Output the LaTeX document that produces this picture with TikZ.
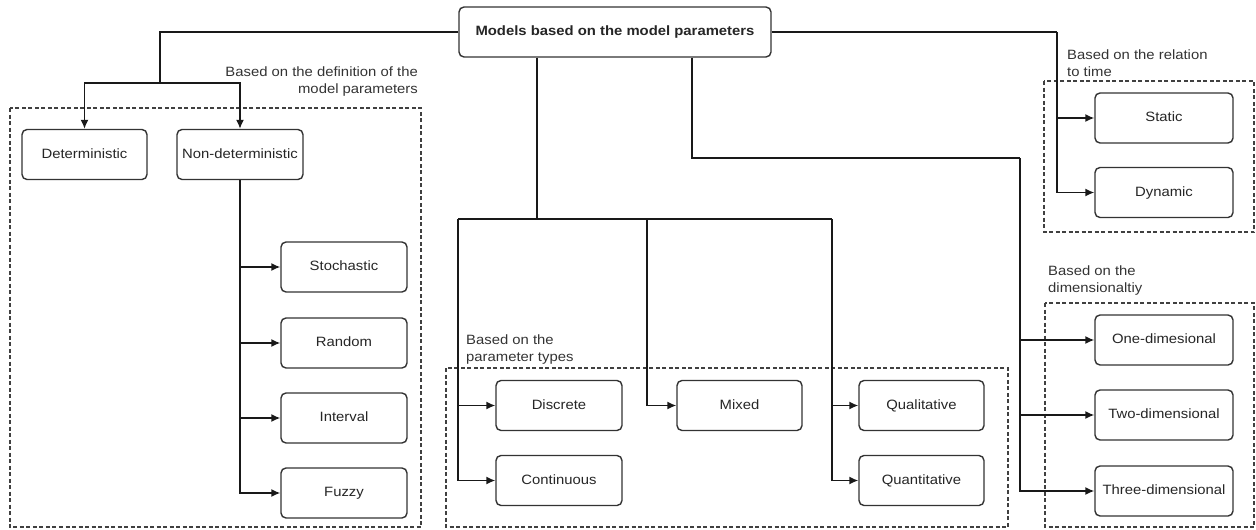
\documentclass[tikz,border=0pt]{standalone}
\usepackage{fontspec}
\setmainfont{Liberation Sans}[FakeStretch=1.1]
\usepackage{tikz}
\usetikzlibrary{arrows.meta}

\begin{document}
\begin{tikzpicture}[x=1pt,y=-1pt,
    box/.style={draw=black!80,line width=1.4pt,rounded corners=5pt,fill=white,text=black!85,
      minimum width=126pt,minimum height=50pt,inner sep=0pt,text height=10pt,text depth=3pt,
      font=\fontsize{13.5}{16}\selectfont},
    grp/.style={draw=black!75,line width=1.1pt,dash pattern=on 4pt off 2.5pt},
    lbl/.style={text=black!80,inner sep=0pt,font=\fontsize{13.5}{17}\selectfont},
    conn/.style={draw=black!90,line width=1.5pt},
    arr/.style={conn,-{Latex[length=9pt,width=8pt]}}]
    \useasboundingbox (0,0) rectangle (1256,530);
    % groups
    \draw[grp] (10,108) rectangle (421,527);
    \draw[grp] (446,368) rectangle (1008,527);
    \draw[grp] (1044,81) rectangle (1254,232);
    \draw[grp] (1045,303) rectangle (1254,527);
    \node[lbl,anchor=east,align=right] (lbdef) at (418,82) {Based on the definition of the\\model parameters};
    \node[lbl,anchor=west,align=left] (lbtype) at (466,350) {Based on the\\parameter types};
    \node[lbl,anchor=west,align=left] (lbtime) at (1067,63) {Based on the relation\\to time};
    \node[lbl,anchor=west,align=left] (lbdim) at (1048,281) {Based on the\\dimensionaltiy};
    % boxes
    \node[box,minimum width=312pt,font=\fontsize{13.5}{16}\selectfont\bfseries] (root) at (615,32) {Models based on the model parameters};
    \node[box,minimum width=125pt] (det) at (84.5,154.5) {Deterministic};
    \node[box] (nondet) at (240,154.5) {Non-deterministic};
    \node[box] (stoch) at (344,267) {Stochastic};
    \node[box] (rand) at (344,343) {Random};
    \node[box] (intv) at (344,418) {Interval};
    \node[box] (fuzzy) at (344,493) {Fuzzy};
    \node[box] (disc) at (559,405.5) {Discrete};
    \node[box] (cont) at (559,480.5) {Continuous};
    \node[box,minimum width=125pt] (mixed) at (739.5,405.5) {Mixed};
    \node[box,minimum width=125pt] (qual) at (921.5,405.5) {Qualitative};
    \node[box,minimum width=125pt] (quant) at (921.5,480.5) {Quantitative};
    \node[box,minimum width=138pt] (static) at (1164,118) {Static};
    \node[box,minimum width=138pt] (dyn) at (1164,192.5) {Dynamic};
    \node[box,minimum width=138pt] (one) at (1164,340) {One-dimesional};
    \node[box,minimum width=138pt] (two) at (1164,415) {Two-dimensional};
    \node[box,minimum width=138pt] (three) at (1164,491) {Three-dimensional};
    % junctions
    \coordinate (jdef) at (160,83);
    \coordinate (jtype) at (537,219);
    \coordinate (barL) at (458,219);
    \coordinate (barM) at (647,219);
    \coordinate (barR) at (832,219);
    \coordinate (jdim) at (692,158);
    \coordinate (kdim) at (1020,158);
    \coordinate (ktime) at (1057,32);
    % connectors
    \draw[conn] (root.west) -| (jdef);
    \draw[arr] (jdef) -| (det.north);
    \draw[arr] (jdef) -| (nondet.north);
    \foreach \n in {stoch,rand,intv,fuzzy}
      \draw[arr] (nondet.south) |- (\n);
    \draw[conn] (root.south -| jtype) -- (jtype);
    \draw[conn] (barL) -- (barR);
    \draw[arr] (barL) |- (disc);
    \draw[arr] (barL) |- (cont);
    \draw[arr] (barM) |- (mixed);
    \draw[arr] (barR) |- (qual);
    \draw[arr] (barR) |- (quant);
    \draw[conn] (root.south -| jdim) |- (kdim);
    \foreach \n in {one,two,three}
      \draw[arr] (kdim) |- (\n);
    \draw[conn] (root.east) -- (ktime);
    \draw[arr] (ktime) |- (static);
    \draw[arr] (ktime) |- (dyn);
  \end{tikzpicture}
\end{document}
